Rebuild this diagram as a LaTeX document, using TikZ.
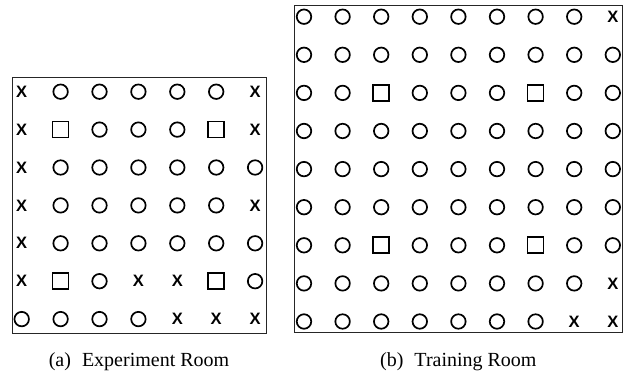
\documentclass[tikz,border=0pt]{standalone}
\usepackage{fontspec}
\setmainfont{Liberation Serif}
\newfontfamily\symfont{Liberation Sans}
\begin{document}
\begin{tikzpicture}[x=1pt,y=-1pt,
  room/.style={draw=black!85,line width=1pt},
  symO/.style={draw,circle,line width=1.7pt,minimum size=14.5pt,inner sep=0pt},
  symS/.style={draw,rectangle,line width=1.7pt,minimum size=16pt,inner sep=0pt},
  symX/.style={inner sep=0pt,font={\fontsize{16.5}{16.5}\symfont\bfseries\selectfont}},
  capt/.style={anchor=base,inner sep=0pt,font={\fontsize{20}{24}\selectfont}}]
\useasboundingbox (0,0) rectangle (635,374);
\newcommand\mktxtX{X}
\newcommand\mktxtO{}
\newcommand\mktxtS{}
% experiment room: 7 x 7 cells
\node[room,rectangle,inner sep=0pt,minimum width=254pt,minimum height=255.3pt] (roomA) at (139,205.35) {};
\foreach \row [count=\j from 0] in {
  {X,O,O,O,O,O,X},
  {X,S,O,O,O,S,X},
  {X,O,O,O,O,O,O},
  {X,O,O,O,O,O,X},
  {X,O,O,O,O,O,O},
  {X,S,O,X,X,S,O},
  {O,O,O,O,X,X,X}}{
  \foreach \c [count=\i from 0] in \row {
    \node[sym\c] (a-\j-\i) at ({21.7+38.9*\i},{91.7+37.9*\j}) {\csname mktxt\c\endcsname};
  }
}
% training room: 9 x 9 cells
\node[room,rectangle,inner sep=0pt,minimum width=327.3pt,minimum height=327.4pt] (roomB) at (458.35,169) {};
\foreach \row [count=\j from 0] in {
  {O,O,O,O,O,O,O,O,X},
  {O,O,O,O,O,O,O,O,O},
  {O,O,S,O,O,O,S,O,O},
  {O,O,O,O,O,O,O,O,O},
  {O,O,O,O,O,O,O,O,O},
  {O,O,O,O,O,O,O,O,O},
  {O,O,S,O,O,O,S,O,O},
  {O,O,O,O,O,O,O,O,X},
  {O,O,O,O,O,O,O,X,X}}{
  \foreach \c [count=\i from 0] in \row {
    \node[sym\c] (b-\j-\i) at ({304+38.6*\i},{16.7+38.1*\j}) {\csname mktxt\c\endcsname};
  }
}
% captions
\node[capt] (captA) at (139,366.5) {(a)\hspace{0.3em} Experiment Room};
\node[capt] (captB) at (458.35,366.5) {(b)\hspace{0.3em} Training Room};
\end{tikzpicture}
\end{document}
